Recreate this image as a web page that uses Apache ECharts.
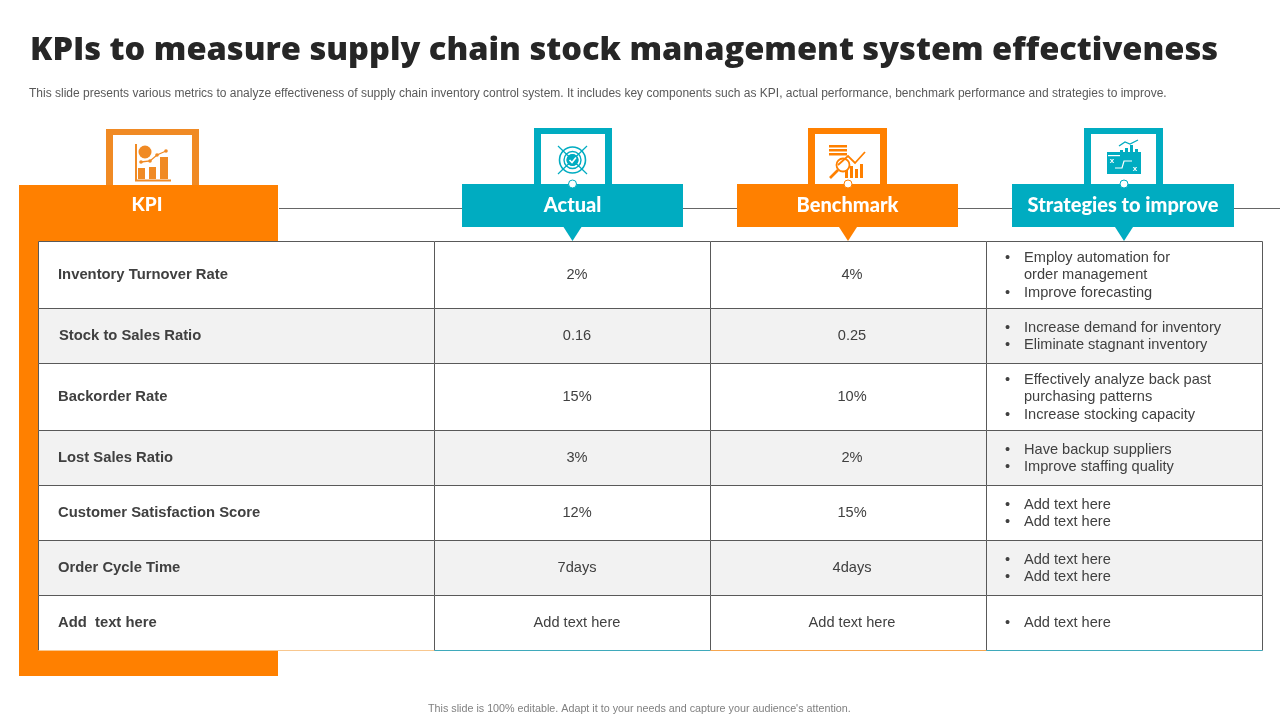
<!DOCTYPE html>
<html>
<head>
    <meta charset="utf-8">
    <title>KPIs to measure supply chain stock management system effectiveness</title>
    <script src="https://cdn.jsdelivr.net/npm/echarts@6/dist/echarts.min.js"></script>
    <style>
        html, body { margin: 0; padding: 0; background: #fff; }
        #main { width: 1280px; height: 720px; }
    </style>
</head>
<body>
<div id="main"></div>
<script>
// data
var titleText = 'KPIs to measure supply chain stock management system effectiveness';
var subtitleText = 'This slide presents various metrics to analyze effectiveness of supply chain inventory control system. It includes key components such as KPI, actual performance, benchmark performance and strategies to improve.';
var footerText = "This slide is 100% editable. Adapt it to your needs and capture your audience's attention.";
var headers = ['KPI', 'Actual', 'Benchmark', 'Strategies to improve'];
var kpis = ['Inventory Turnover Rate', 'Stock to Sales Ratio', 'Backorder Rate', 'Lost Sales Ratio', 'Customer Satisfaction Score', 'Order Cycle Time', 'Add  text here'];
var actual = ['2%', '0.16', '15%', '3%', '12%', '7days', 'Add text here'];
var benchmark = ['4%', '0.25', '10%', '2%', '15%', '4days', 'Add text here'];
var strategies = [
    ['* Employ automation for', 'order management', '* Improve forecasting'],
    ['* Increase demand for inventory', '* Eliminate stagnant inventory'],
    ['* Effectively analyze back past', 'purchasing patterns', '* Increase stocking capacity'],
    ['* Have backup suppliers', '* Improve staffing quality'],
    ['* Add text here', '* Add text here'],
    ['* Add text here', '* Add text here'],
    ['* Add text here']
];

// layout, in slide pixels
var colEdges = [38, 434, 710, 986, 1262];
var rowEdges = [241, 308, 363, 430, 485, 540, 595, 650];
var ORANGE = '#FF8000';
var TEAL = '#00ACC1';
var LINE = '#595959';
var BODY = 'Liberation Sans, Arial, sans-serif';
var HEAD = 'Lato, sans-serif';

var cellData = [];
kpis.forEach(function (k, r) {
    [0, 1, 2, 3].forEach(function (c) { cellData.push([c, r]); });
});

function renderCell(params, api) {
    var c = api.value(0), r = api.value(1);
    var p0 = api.coord([colEdges[c], rowEdges[r]]);
    var p1 = api.coord([colEdges[c + 1], rowEdges[r + 1]]);
    var x0 = Math.round(p0[0]) + 0.5, y0 = Math.round(p0[1]) + 0.5;
    var x1 = Math.round(p1[0]) + 0.5, y1 = Math.round(p1[1]) + 0.5;
    var cy = (y0 + y1) / 2 + 0.4;
    var kids = [];
    kids.push({ type: 'rect', shape: { x: x0, y: y0, width: x1 - x0, height: y1 - y0 },
        style: { fill: r % 2 ? '#F2F2F2' : '#FFFFFF' } });
    function seg(a, b, d, e, col) {
        kids.push({ type: 'line', shape: { x1: a, y1: b, x2: d, y2: e }, style: { stroke: col || LINE, lineWidth: 1 } });
    }
    seg(x0, y0, x1, y0);
    seg(x0, y0, x0, y1);
    if (c === 3) seg(x1, y0, x1, y1);
    if (r === kpis.length - 1) seg(x0, y1, x1, y1, c === 0 ? '#F8C78F' : (c % 2 ? '#3FA9BB' : '#F6A64F'));

    function txt(s, x, y, align, bold) {
        kids.push({ type: 'text', style: { text: s, x: x, y: y, align: align, verticalAlign: 'middle',
            fill: '#404040', fontFamily: BODY, fontSize: bold ? 14.8 : 14.6, fontWeight: bold ? 'bold' : 'normal' } });
    }
    if (c === 0) {
        txt(kpis[r], r === 1 ? 59 : 58, cy, 'left', true);
    } else if (c === 1) {
        txt(actual[r], 577, cy, 'center');
    } else if (c === 2) {
        txt(benchmark[r], 852, cy, 'center');
    } else {
        var lines = strategies[r];
        lines.forEach(function (s, i) {
            var y = cy + (i - (lines.length - 1) / 2) * 17.5;
            if (s.charAt(0) === '*') {
                txt('\u2022', 1005, y, 'left');
                s = s.slice(2);
            }
            txt(s, 1024, y, 'left');
        });
    }
    return { type: 'group', children: kids };
}

// header banners for the three right hand columns
var bannerLeft = [462, 737, 1012];
var bannerWidth = [221, 221, 222];
var notchX = [572.5, 848, 1124];
var bannerData = [[1], [2], [3]];

function renderBanner(params, api) {
    var i = api.value(0) - 1;
    var col = i % 2 ? ORANGE : TEAL;
    var tl = api.coord([bannerLeft[i], 184]);
    var br = api.coord([bannerLeft[i] + bannerWidth[i], 227]);
    var n = notchX[i];
    return { type: 'group', children: [
        { type: 'rect', shape: { x: tl[0], y: tl[1], width: br[0] - tl[0], height: br[1] - tl[1] }, style: { fill: col } },
        { type: 'polygon', shape: { points: [[n - 9, 227], [n + 9, 227], [n, 241]] }, style: { fill: col } },
        { type: 'circle', shape: { cx: n, cy: 184, r: 4 }, style: { fill: '#fff', stroke: col, lineWidth: 1 } },
        { type: 'text', style: { text: headers[i + 1], x: (tl[0] + br[0]) / 2, y: 205.5, align: 'center', verticalAlign: 'middle',
            fill: '#fff', fontFamily: HEAD, fontWeight: 900, fontSize: 20 } }
    ] };
}

// icon helpers
function bar(x, y, w, h, col) { return { type: 'rect', shape: { x: x, y: y, width: w, height: h }, style: { fill: col }, z: 5 }; }
function poly(pts, col, lw) { return { type: 'polyline', shape: { points: pts }, style: { stroke: col, fill: null, lineWidth: lw || 1.5 }, z: 5 }; }
function dot(x, y, r, col) { return { type: 'circle', shape: { cx: x, cy: y, r: r }, style: { fill: col }, z: 5 }; }
function ring(x, y, r, col, lw) { return { type: 'circle', shape: { cx: x, cy: y, r: r }, style: { fill: null, stroke: col, lineWidth: lw || 1.5 }, z: 5 }; }
function frame(x, y, w, h, col) {
    return [bar(x, y, 7, h, col), bar(x + w - 7, y, 7, h, col), bar(x, y, w, 6, col)];
}

var ICON_ORANGE = '#F08A24';
var icons = [].concat(
    frame(106, 129, 93, 56, ICON_ORANGE),
    frame(534, 128, 78, 56, TEAL),
    frame(808, 128, 79, 56, ORANGE),
    frame(1084, 128, 79, 56, TEAL),
    // KPI icon
    [poly([[136, 144], [136, 180.5], [171, 180.5]], ICON_ORANGE, 2),
     bar(138, 168, 7, 11, ICON_ORANGE), bar(149, 167, 7, 12, ICON_ORANGE), bar(160, 157, 8, 22, ICON_ORANGE),
     { type: 'sector', shape: { cx: 145, cy: 152, r: 6.5, startAngle: 0, endAngle: Math.PI * 2 }, style: { fill: ICON_ORANGE }, z: 5 },
     poly([[141, 162], [150, 161], [157, 155], [166, 151]], ICON_ORANGE, 1.3),
     dot(141, 162, 1.8, ICON_ORANGE), dot(150, 161, 1.8, ICON_ORANGE), dot(157, 155, 1.8, ICON_ORANGE), dot(166, 151, 1.8, ICON_ORANGE)],
    // Actual icon
    [ring(572.5, 160, 13, TEAL, 1.6), ring(572.5, 160, 8.5, TEAL, 1.4), dot(572.5, 160, 6, TEAL),
     poly([[558, 146], [587, 174]], TEAL, 1.2), poly([[587, 146], [558, 174]], TEAL, 1.2),
     dot(572.5, 160, 6, TEAL), poly([[569.5, 160], [572, 162.5], [576, 157.5]], '#fff', 1.6)],
    // Benchmark icon
    [bar(829, 145, 18, 2.5, ORANGE), bar(829, 149, 18, 2.5, ORANGE), bar(829, 153, 18, 2.5, ORANGE),
     ring(843, 165, 6.5, ORANGE, 1.8), poly([[838, 170], [830, 178]], ORANGE, 2.6),
     bar(845, 170, 3, 8, ORANGE), bar(850, 166, 3, 12, ORANGE), bar(855, 169, 3, 9, ORANGE), bar(860, 164, 3, 14, ORANGE),
     poly([[838, 165], [848, 156], [855, 163], [865, 152]], ORANGE, 1.8)],
    // Strategies icon
    [bar(1107, 152, 34, 22, TEAL), bar(1120, 150, 3, 9, TEAL), bar(1125, 148, 3, 11, TEAL), bar(1130, 145, 3, 14, TEAL), bar(1135, 149, 3, 10, TEAL),
     poly([[1119, 146], [1125, 142], [1130, 144], [1138, 140]], TEAL, 1.3),
     bar(1108, 155, 12, 1.2, '#fff'),
     poly([[1115, 168], [1122, 168], [1124, 161], [1132, 161]], '#fff', 1.2),
     { type: 'text', style: { text: 'x', x: 1112, y: 161, fill: '#fff', fontSize: 8, fontWeight: 'bold', fontFamily: BODY, align: 'center', verticalAlign: 'middle' }, z: 5 },
     { type: 'text', style: { text: 'x', x: 1135, y: 169, fill: '#fff', fontSize: 8, fontWeight: 'bold', fontFamily: BODY, align: 'center', verticalAlign: 'middle' }, z: 5 }]
);

var chart = echarts.init(document.getElementById('main'), null, { renderer: 'canvas' });
chart.setOption({
    animation: false,
    backgroundColor: '#fff',
    title: [
        { text: titleText, left: 30, top: 34, padding: 0, textStyle: { fontFamily: 'Open Sans, sans-serif', fontWeight: 800, fontSize: 32.6, color: '#262626' } },
        { text: subtitleText, left: 29, top: 88, padding: 0, textStyle: { fontFamily: BODY, fontWeight: 'normal', fontSize: 12, color: '#595959' } },
        { text: footerText, left: 428, top: 704, padding: 0, textStyle: { fontFamily: BODY, fontWeight: 'normal', fontSize: 10.75, color: '#808080' } }
    ],
    grid: { left: 0, right: 0, top: 0, bottom: 0 },
    xAxis: { type: 'value', min: 0, max: 1280, show: false },
    yAxis: { type: 'value', min: 0, max: 720, inverse: true, show: false },
    graphic: [
        { type: 'group', z: 0, children: [
            { type: 'rect', shape: { x: 19, y: 185, width: 259, height: 491 }, style: { fill: ORANGE }, z: 1 },
            { type: 'line', shape: { x1: 279, y1: 208.5, x2: 1280, y2: 208.5 }, style: { stroke: '#666666', lineWidth: 1 }, z: 1 },
            { type: 'text', style: { text: headers[0], x: 147, y: 205, align: 'center', verticalAlign: 'middle', fill: '#fff', fontFamily: HEAD, fontWeight: 900, fontSize: 19 }, z: 2 }
        ].concat(icons) }
    ],
    series: [
        { type: 'custom', name: 'table', coordinateSystem: 'cartesian2d', clip: false, z: 3, silent: true,
          data: cellData, renderItem: renderCell, encode: { x: 0, y: 1 } },
        { type: 'custom', name: 'banners', coordinateSystem: 'cartesian2d', clip: false, z: 4, silent: true,
          data: bannerData, renderItem: renderBanner, encode: { x: 0 } }
    ]
});
</script>
</body>
</html>
